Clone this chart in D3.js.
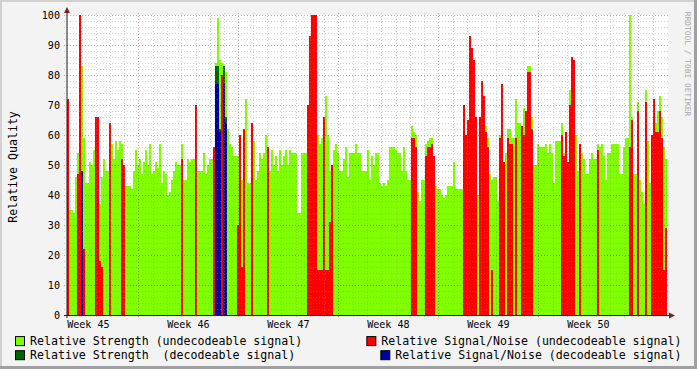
<!DOCTYPE html>
<html>
<head>
<meta charset="utf-8">
<script src="https://cdn.jsdelivr.net/npm/d3@7/dist/d3.min.js"></script>
<style>
  body { margin: 0; background: #f3f3f3; }
  svg text { font-family: "DejaVu Sans Mono", monospace; }
</style>
</head>
<body>
<div class="chart"></div>
<script>
// week labels, one per week shown on the time axis
var weeks = ["Week 45", "Week 46", "Week 47", "Week 48", "Week 49", "Week 50"];
var yTicks = [0, 10, 20, 30, 40, 50, 60, 70, 80, 90, 100];

// one value per time slot (300 slots over 42 days)
var strengthUndec = [
  35,35,35,34,46,54,56,83,59,44,
  44,51,50,55,45,45,37,46,52,48,
  48,57,57,52,58,55,58,57,47,43,
  43,43,42,48,55,50,52,47,51,55,
  50,57,47,48,51,49,57,44,48,47,
  40,41,45,48,51,50,50,57,45,45,
  52,51,52,52,47,48,48,48,54,47,
  50,52,52,55,84,99,85,84,81,81,
  62,57,56,53,53,53,47,45,45,72,
  44,44,44,58,45,48,54,52,54,60,
  53,48,55,50,53,48,55,50,53,55,
  50,55,54,54,54,34,34,54,54,54,
  57,52,50,52,54,60,57,59,64,73,
  60,48,48,55,57,54,48,48,52,56,
  46,54,54,54,57,54,54,48,48,48,
  55,45,53,50,54,54,44,43,44,43,
  45,56,56,56,55,54,54,48,56,48,
  45,45,63,61,60,41,38,45,45,57,
  58,59,59,44,43,42,42,40,39,40,
  43,43,43,51,42,42,42,42,42,42,
  42,60,82,83,60,40,62,66,63,63,
  59,47,45,46,46,38,60,72,49,54,
  62,62,59,59,72,64,64,46,69,60,
  83,83,66,50,50,57,56,56,56,57,
  54,57,54,44,58,58,58,64,54,58,
  51,75,78,68,60,48,48,54,52,47,
  47,52,54,52,52,57,56,57,53,45,
  54,54,57,57,57,57,47,47,56,59,
  59,100,66,47,47,71,45,41,37,75,
  58,44,44,72,64,68,73,66,56,52
];

var noiseUndec = [
  72,0,0,0,0,47,100,0,22,0,
  0,0,0,0,66,66,18,16,0,0,
  0,64,0,0,0,0,0,52,50,0,
  0,0,0,0,0,0,0,0,0,0,
  0,0,0,0,0,0,0,0,0,0,
  0,0,0,0,0,0,0,52,0,0,
  0,0,0,0,70,0,0,0,0,0,
  0,0,0,56,0,0,0,80,0,0,
  0,0,0,0,0,30,60,16,62,0,
  0,0,64,0,0,0,0,0,0,0,
  56,0,0,0,0,0,0,0,0,0,
  0,0,0,0,0,0,0,0,0,0,
  70,93,100,100,100,15,15,15,66,15,
  15,31,50,0,0,0,0,0,0,0,
  0,0,0,0,0,0,0,0,0,0,
  0,0,0,0,0,0,0,0,0,0,
  0,0,0,0,0,0,0,0,0,0,
  0,0,59,59,56,0,0,0,0,53,
  56,56,57,53,0,0,0,0,0,0,
  0,0,0,0,0,0,0,0,70,60,
  65,93,89,85,66,0,66,78,73,61,
  56,0,15,0,0,0,59,77,51,0,
  59,57,57,0,59,0,0,63,60,68,
  81,81,62,0,0,0,0,0,0,0,
  0,0,0,0,0,0,0,60,53,61,
  51,70,86,85,0,0,57,0,0,0,
  0,0,0,0,0,55,0,0,0,0,
  0,0,0,0,0,0,0,0,0,0,
  0,56,65,0,0,68,0,0,0,71,
  0,0,60,72,61,61,68,59,15,29
];

// decodeable signal only shows up in a few slots
var decSlots = [7, 74, 75, 76, 78, 79];
var strengthDec = [0, 83, 83, 62, 83, 66];
var noiseDec = [48, 77, 77, 61, 77, 64];

var legendNames = [
  "Relative Strength (undecodeable signal)",
  "Relative Signal/Noise (undecodeable signal)",
  "Relative Strength  (decodeable signal)",
  "Relative Signal/Noise (decodeable signal)"
];
var colors = ["#7fff00", "#ff0000", "#006600", "#000099"];

var W = 697, H = 369;
var pLeft = 67, pRight = 667, pTop = 15, pBottom = 315;
var nSlots = strengthUndec.length;

var svg = d3.select(".chart").append("svg")
  .attr("width", W)
  .attr("height", H);

// frame
svg.append("rect").attr("width", W).attr("height", H).attr("fill", "#f3f3f3");
svg.append("rect").attr("x", 0).attr("y", 0).attr("width", W).attr("height", 2).attr("fill", "#d0d0d0");
svg.append("rect").attr("x", 0).attr("y", 0).attr("width", 2).attr("height", H).attr("fill", "#d0d0d0");
svg.append("rect").attr("x", 0).attr("y", H - 3).attr("width", W).attr("height", 3).attr("fill", "#a0a0a0");
svg.append("rect").attr("x", W - 3).attr("y", 0).attr("width", 3).attr("height", H).attr("fill", "#a0a0a0");

// canvas
svg.append("rect")
  .attr("x", pLeft).attr("y", pTop)
  .attr("width", pRight - pLeft + 1).attr("height", pBottom - pTop)
  .attr("fill", "#ffffff");

var x = d3.scaleLinear().domain([0, nSlots]).range([pLeft, pRight]);
var day = d3.scaleLinear().domain([0, 42]).range([pLeft, pRight]);
var y = d3.scaleLinear().domain([0, 100]).range([pBottom, pTop]);

var slotW = x(1) - x(0);

var drawSeries = function(slots, values, color) {
  svg.append("g").selectAll("rect")
    .data(values.map(function(v, k) { return {s: slots ? slots[k] : k, v: v}; })
      .filter(function(d) { return d.v > 0; }))
    .enter().append("rect")
    .attr("x", function(d) { return x(d.s); })
    .attr("width", slotW)
    .attr("y", function(d) { return y(d.v); })
    .attr("height", function(d) { return y(0) - y(d.v); })
    .attr("fill", color)
    .attr("shape-rendering", "crispEdges");
};

drawSeries(null, strengthUndec, colors[0]);
drawSeries(null, noiseUndec, colors[1]);
drawSeries(decSlots, strengthDec, colors[2]);
drawSeries(decSlots, noiseDec, colors[3]);

// grid on top of the graph, rrdtool style
var minorCol = "rgba(140,140,140,0.38)";
var majorCol = "rgba(130,30,30,0.38)";
var grid = svg.append("g").attr("shape-rendering", "crispEdges");

var hVals = d3.range(2, 101, 2);
grid.selectAll("line.h").data(hVals).enter().append("line")
  .attr("x1", pLeft - 3).attr("x2", pRight + 2)
  .attr("y1", function(d) { return Math.round(y(d)) + 0.5; })
  .attr("y2", function(d) { return Math.round(y(d)) + 0.5; })
  .attr("stroke", function(d) { return d % 10 === 0 ? majorCol : minorCol; })
  .attr("stroke-dasharray", "1,2");

var dVals = d3.range(1, 42);
var isMajorDay = function(d) { return (d - 5) % 7 === 0; };
grid.selectAll("line.v").data(dVals).enter().append("line")
  .attr("x1", function(d) { return Math.round(day(d)) + 0.5; })
  .attr("x2", function(d) { return Math.round(day(d)) + 0.5; })
  .attr("y1", pTop - 2).attr("y2", pBottom + 3)
  .attr("stroke", function(d) { return isMajorDay(d) ? majorCol : minorCol; })
  .attr("stroke-dasharray", "1,2");

// axes
svg.append("line")
  .attr("x1", pLeft).attr("x2", pLeft)
  .attr("y1", pBottom + 3).attr("y2", 10)
  .attr("stroke", "#1f1f1f").attr("stroke-width", 1);
svg.append("line")
  .attr("x1", pLeft - 3).attr("x2", pRight + 4)
  .attr("y1", pBottom + 0.5).attr("y2", pBottom + 0.5)
  .attr("stroke", "#1f1f1f").attr("stroke-width", 1);
svg.append("path")
  .attr("d", "M" + (pLeft - 3) + ",13L" + (pLeft + 3) + ",13L" + pLeft + ",7Z")
  .attr("fill", "#7f1f1f");
svg.append("path")
  .attr("d", "M" + (pRight + 2) + "," + (pBottom - 2.5) + "L" + (pRight + 2) + "," + (pBottom + 3.5) + "L" + (pRight + 8) + "," + (pBottom + 0.5) + "Z")
  .attr("fill", "#7f1f1f");

// y tick labels
svg.append("g").selectAll("text").data(yTicks).enter().append("text")
  .attr("x", 60)
  .attr("y", function(d) { return y(d) + 3.7; })
  .attr("text-anchor", "end")
  .attr("font-size", "10.1px")
  .attr("fill", "#000")
  .text(function(d) { return d; });

// week labels, centred on each week
svg.append("g").selectAll("text").data(weeks).enter().append("text")
  .attr("x", function(d, i) { return day(1.5 + 7 * i); })
  .attr("y", 327.5)
  .attr("text-anchor", "middle")
  .attr("font-size", "10.1px")
  .attr("fill", "#000")
  .text(function(d) { return d; });

// y axis title
svg.append("text")
  .attr("transform", "translate(16.5," + ((pTop + pBottom) / 2 + 2) + ") rotate(-90)")
  .attr("text-anchor", "middle")
  .attr("font-size", "11.6px")
  .attr("fill", "#000")
  .text("Relative Quality");

// watermark
svg.append("text")
  .attr("transform", "translate(684.5,64) rotate(90)")
  .attr("text-anchor", "middle")
  .attr("font-size", "7.9px")
  .attr("fill", "#a8a8a8")
  .text("RRDTOOL / TOBI OETIKER");

// legend: first item of a row left aligned, second right aligned
var legendRows = [344.6, 358.7];
legendNames.forEach(function(name, i) {
  var row = Math.floor(i / 2);
  var ty = legendRows[row];
  var g = svg.append("g");
  var t = g.append("text")
    .attr("y", ty)
    .attr("font-size", "11.6px")
    .attr("fill", "#000")
    .style("white-space", "pre")
    .attr("xml:space", "preserve")
    .text(name);
  var tx;
  if (i % 2 === 0) {
    tx = 30;
  } else {
    tx = 681.5 - t.node().getComputedTextLength();
  }
  t.attr("x", tx);
  g.append("rect")
    .attr("x", tx - 14.5).attr("y", ty - 8)
    .attr("width", 9).attr("height", 9)
    .attr("fill", colors[i])
    .attr("stroke", "#000")
    .attr("stroke-width", 1);
});
</script>
</body>
</html>
